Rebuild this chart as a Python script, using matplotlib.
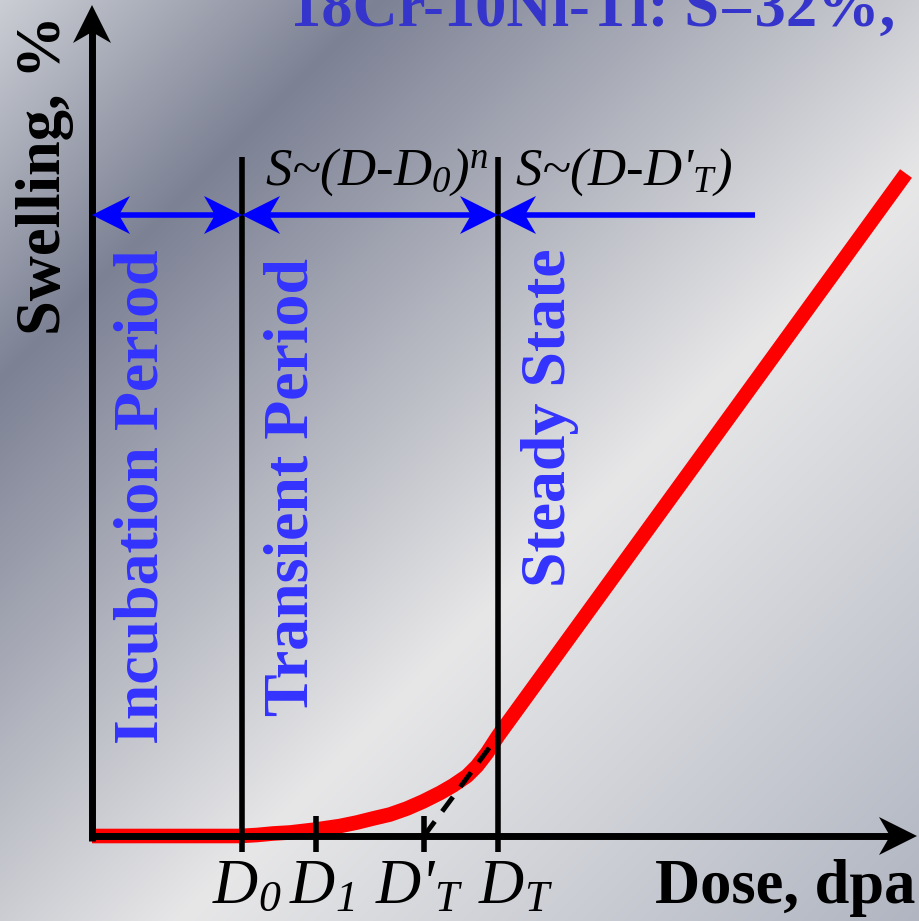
import numpy as np
import matplotlib
matplotlib.use('Agg')
import matplotlib.pyplot as plt
from matplotlib.patches import Polygon

plt.rcParams['font.family'] = 'Liberation Serif'
plt.rcParams['mathtext.fontset'] = 'custom'
plt.rcParams['mathtext.rm'] = 'Liberation Serif:italic'
plt.rcParams['mathtext.it'] = 'Liberation Serif:italic'
plt.rcParams['lines.scale_dashes'] = False

# schematic swelling curve (dose and swelling in arbitrary units)
dose = [0.0, 2.96, 3.30, 3.62, 3.96, 4.48, 4.96, 5.30, 5.62, 5.96, 6.30, 6.62,
        6.96, 7.22, 7.50, 7.70, 7.90, 8.12, 16.28]
swelling = [0.0, 0.0, 0.02, 0.05, 0.07, 0.13, 0.20, 0.27, 0.35, 0.43, 0.55, 0.69,
            0.86, 1.01, 1.20, 1.40, 1.66, 2.00, 13.25]

# characteristic doses on the dose axis
mark_labels = ['D$_0$', 'D$_1$', "D'$_T$", 'D$_T$']
mark_dose = [3.0, 4.48, 6.64, 8.12]
label_shift = [-0.60, -0.54, -0.98, -0.40]   # left edge of each label vs its tick

# linear steady-state law extrapolated back to D'_T
extrap_dose = [6.64, 8.12]
extrap_swell = [0.0, 2.0]

periods = ['Incubation Period', 'Transient Period', 'Steady State']
laws = ['S~(D-D$_0$)$^n$', "S~(D-D'$_T$)"]
title = '18Cr-10Ni-Ti: S=32%,'

BLUE = '#0000ff'
TEXT_BLUE = '#3333ff'
RED = '#ff0000'

W, H = 919, 921
X0, Y0, PX = 92, 836, 50.0      # origin pixel and pixels per unit
xlim = (-X0 / PX, (W - X0) / PX)
ylim = ((Y0 - H) / PX, Y0 / PX)

fig = plt.figure(figsize=(W / 100, H / 100), dpi=100)
ax = fig.add_axes([0, 0, 1, 1])
ax.set_xlim(*xlim)
ax.set_ylim(*ylim)
ax.axis('off')

# brushed-metal style diagonal gradient
px = np.arange(W)[None, :]
py = np.arange(H)[:, None]
s = (px + py).astype(float)
stops = [0, 380, 1100, 1840]
cols = np.array([[203, 206, 212], [124, 129, 148], [231, 231, 232], [176, 181, 193]]) / 255
bg = np.dstack([np.interp(s, stops, cols[:, k]) for k in range(3)])
ax.imshow(bg, extent=(xlim[0], xlim[1], ylim[0], ylim[1]), origin='upper',
          aspect='auto', zorder=0, interpolation='bilinear')


def head(x, y, dx, dy, color, L=0.76, Wd=0.38, N=0.54, z=5):
    px_, py_ = -dy, dx
    pts = [(x, y),
           (x - L * dx + Wd * px_, y - L * dy + Wd * py_),
           (x - N * dx, y - N * dy),
           (x - L * dx - Wd * px_, y - L * dy - Wd * py_)]
    ax.add_patch(Polygon(pts, closed=True, facecolor=color, edgecolor='none', zorder=z))


# axes with arrow heads
y_tip = (Y0 - 5) / PX
x_tip = (917 - X0) / PX
ax.plot([0, 0], [-0.1, y_tip - 0.5], color='black', lw=5, solid_capstyle='butt', zorder=4)
ax.plot([-0.07, x_tip - 0.5], [0, 0], color='black', lw=5, solid_capstyle='butt', zorder=4)
head(0, y_tip, 0, 1, 'black')
head(x_tip, 0, 1, 0, 'black')

# period boundaries and ticks
for d in (mark_dose[0], mark_dose[3]):
    ax.plot([d, d], [-0.32, 13.58], color='black', lw=4, solid_capstyle='butt', zorder=4)
for d in (mark_dose[1], mark_dose[2]):
    ax.plot([d, d], [-0.32, 0.4], color='black', lw=4, solid_capstyle='butt', zorder=4)

# swelling curve and extrapolation
ax.plot(dose, swelling, color=RED, lw=10.5, solid_capstyle='butt', solid_joinstyle='round', zorder=3)
ax.plot(extrap_dose, extrap_swell, color='black', lw=3.5, dashes=(13, 9), zorder=5)

# blue period arrows
ya = (Y0 - 215) / PX
N = 0.54
ax.plot([0 + N, mark_dose[0] - N], [ya, ya], color=BLUE, lw=4, solid_capstyle='butt', zorder=5)
head(0, ya, -1, 0, BLUE)
head(mark_dose[0], ya, 1, 0, BLUE)
ax.plot([mark_dose[0] + N, mark_dose[3] - N], [ya, ya], color=BLUE, lw=4, solid_capstyle='butt', zorder=5)
head(mark_dose[0], ya, -1, 0, BLUE)
head(mark_dose[3], ya, 1, 0, BLUE)
ax.plot([mark_dose[3] + N, (755 - X0) / PX], [ya, ya], color=BLUE, lw=4, solid_capstyle='butt', zorder=5)
head(mark_dose[3], ya, -1, 0, BLUE)

# period names
period_x = [(142 - X0) / PX, (292 - X0) / PX, (550 - X0) / PX]
period_y = [(Y0 - 497) / PX, (Y0 - 487) / PX, (Y0 - 418) / PX]
for name, xx, yy in zip(periods, period_x, period_y):
    ax.text(xx, yy, name, rotation=90, ha='center', va='center', fontsize=46,
            fontweight='bold', color=TEXT_BLUE, zorder=6)

# growth laws
law_x = [(265 - X0) / PX, (515 - X0) / PX]
for law, xx in zip(laws, law_x):
    ax.text(xx, (Y0 - 185) / PX, law, ha='left', va='baseline', fontsize=38,
            fontstyle='italic', color='black', zorder=6)

# dose marks
for lab, d, sh in zip(mark_labels, mark_dose, label_shift):
    ax.text(d + sh, (Y0 - 903) / PX, lab, ha='left', va='baseline', fontsize=45,
            fontstyle='italic', color='black', zorder=6)

ax.text((655 - X0) / PX, (Y0 - 903) / PX, 'Dose, dpa', ha='left', va='baseline',
        fontsize=45, fontweight='bold', color='black', zorder=6)
ax.text((45 - X0) / PX, (Y0 - 175) / PX, 'Swelling, %', rotation=90, ha='center',
        va='center', fontsize=45, fontweight='bold', color='black', zorder=6)
ax.text((290 - X0) / PX, (Y0 - 26) / PX, title, ha='left', va='baseline',
        fontsize=45, fontweight='bold', color='#3535cc', zorder=6)

fig.savefig('out.png', dpi=100)
